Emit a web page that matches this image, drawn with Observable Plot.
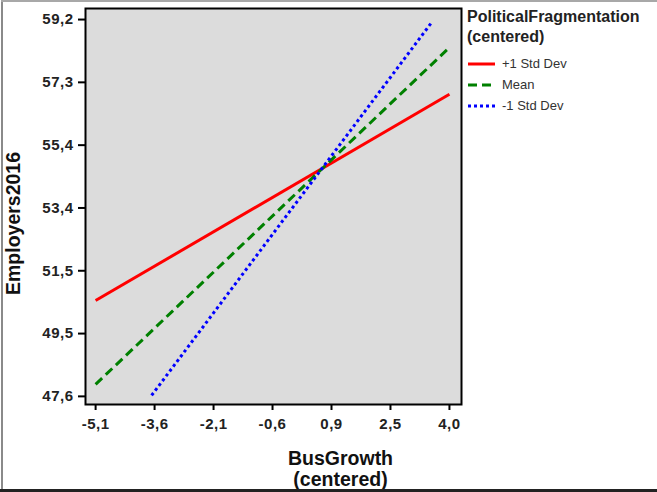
<!DOCTYPE html>
<html>
<head>
<meta charset="utf-8">
<script src="https://cdn.jsdelivr.net/npm/d3@7"></script>
<script src="https://cdn.jsdelivr.net/npm/@observablehq/plot@0.6"></script>
<style>
  html, body { margin: 0; padding: 0; background: #fff; }
  #wrap { position: relative; width: 657px; height: 492px; overflow: hidden; font-family: Arial, "Liberation Sans", sans-serif; }
  #edge-left { position: absolute; left: 1px; top: 1px; width: 2px; height: 490px; background: #8a8a8a; }
  #edge-top { position: absolute; left: 1px; top: 0px; width: 656px; height: 2px; background: #a8a8a8; }
  #edge-bottom { position: absolute; left: 0px; top: 489px; width: 657px; height: 3px; background: #222; }
  #chart svg [aria-label$="tick label"] { font-size: 15px !important; letter-spacing: 0.5px; }
  #legend { position: absolute; left: 467px; top: 7px; color: #111; }
  #legend .title { font-weight: bold; font-size: 16px; line-height: 20px; color: #222; margin-bottom: 6px; }
  #legend .item { display: flex; align-items: center; height: 21px; font-size: 13px; color: #333; }
  #legend .item svg { margin-right: 6px; }
</style>
</head>
<body>
<div id="wrap">
  <div id="chart"></div>
  <div id="legend"></div>
  <div id="edge-left"></div>
  <div id="edge-top"></div>
  <div id="edge-bottom"></div>
</div>
<script>
// Simple slopes of Employers2016 on BusGrowth at three levels of PoliticalFragmentation
const seriesNames = ["+1 Std Dev", "Mean", "-1 Std Dev"];
const seriesColors = ["#ff0000", "#008000", "#0000ff"];
const seriesDash = ["none", "9,5", "3,3"];
const xStart = [-5.1, -5.1, -3.66];
const xEnd = [4.0, 4.0, 3.56];
const yStart = [50.55, 47.97, 47.63];
const yEnd = [56.9, 58.34, 59.14];

// Axis ticks (evenly spaced between the printed extremes)
const xTickLabels = ["-5,1", "-3,6", "-2,1", "-0,6", "0,9", "2,5", "4,0"];
const yTickLabels = ["47,6", "49,5", "51,5", "53,4", "55,4", "57,3", "59,2"];
const xTicks = xTickLabels.map((_, i) => -5.1 + i * (4.0 + 5.1) / 6);
const yTicks = yTickLabels.map((_, i) => 47.6 + i * (59.2 - 47.6) / 6);

const segments = seriesNames.map((name, i) => ({
  name, x1: xStart[i], x2: xEnd[i], y1: yStart[i], y2: yEnd[i]
}));

const chart = Plot.plot({
  width: 657,
  height: 492,
  marginLeft: 85,
  marginRight: 196,
  marginTop: 8,
  marginBottom: 88,
  style: { background: "transparent", fontFamily: "Arial, 'Liberation Sans', sans-serif", fontSize: "15px" },
  x: { domain: [-5.36, 4.31] },
  y: { domain: [47.35, 59.54] },
  marks: [
    Plot.frame({ fill: "#dcdcdc", stroke: "none" }),
    ...segments.map((s, i) => Plot.link([s], {
      x1: "x1", y1: "y1", x2: "x2", y2: "y2",
      stroke: seriesColors[i],
      strokeWidth: 3,
      strokeDasharray: seriesDash[i]
    })),
    Plot.frame({ stroke: "#000", strokeWidth: 2 }),
    Plot.axisX(xTicks, {
      tickSize: 6, tickPadding: 8, tickFormat: (d, i) => xTickLabels[i],
      strokeWidth: 2, fontSize: 15, fontWeight: "bold", fill: "#222", label: null
    }),
    Plot.axisY(yTicks, {
      tickSize: 7, tickPadding: 5, tickFormat: (d, i) => yTickLabels[i],
      strokeWidth: 2, fontSize: 15, fontWeight: "bold", fill: "#222", label: null
    }),
    Plot.text(["BusGrowth\n(centered)"], {
      frameAnchor: "bottom", dx: 67, dy: 81, lineHeight: 1.05,
      fontSize: 19.5, fontWeight: "bold", fill: "#111"
    }),
    Plot.text(["Employers2016"], {
      frameAnchor: "left", textAnchor: "middle", rotate: -90, dx: -72, dy: 17,
      fontSize: 19.5, fontWeight: "bold", fill: "#111"
    })
  ]
});
document.getElementById("chart").appendChild(chart);

// Legend
const legend = document.getElementById("legend");
legend.innerHTML = `<div class="title">PoliticalFragmentation<br>(centered)</div>` +
  seriesNames.map((name, i) => `<div class="item">
    <svg width="29" height="6"><line x1="1" y1="3" x2="28" y2="3" stroke="${seriesColors[i]}"
      stroke-width="3" stroke-dasharray="${seriesDash[i]}"/></svg>
    <span>${name}</span></div>`).join("");
</script>
</body>
</html>
